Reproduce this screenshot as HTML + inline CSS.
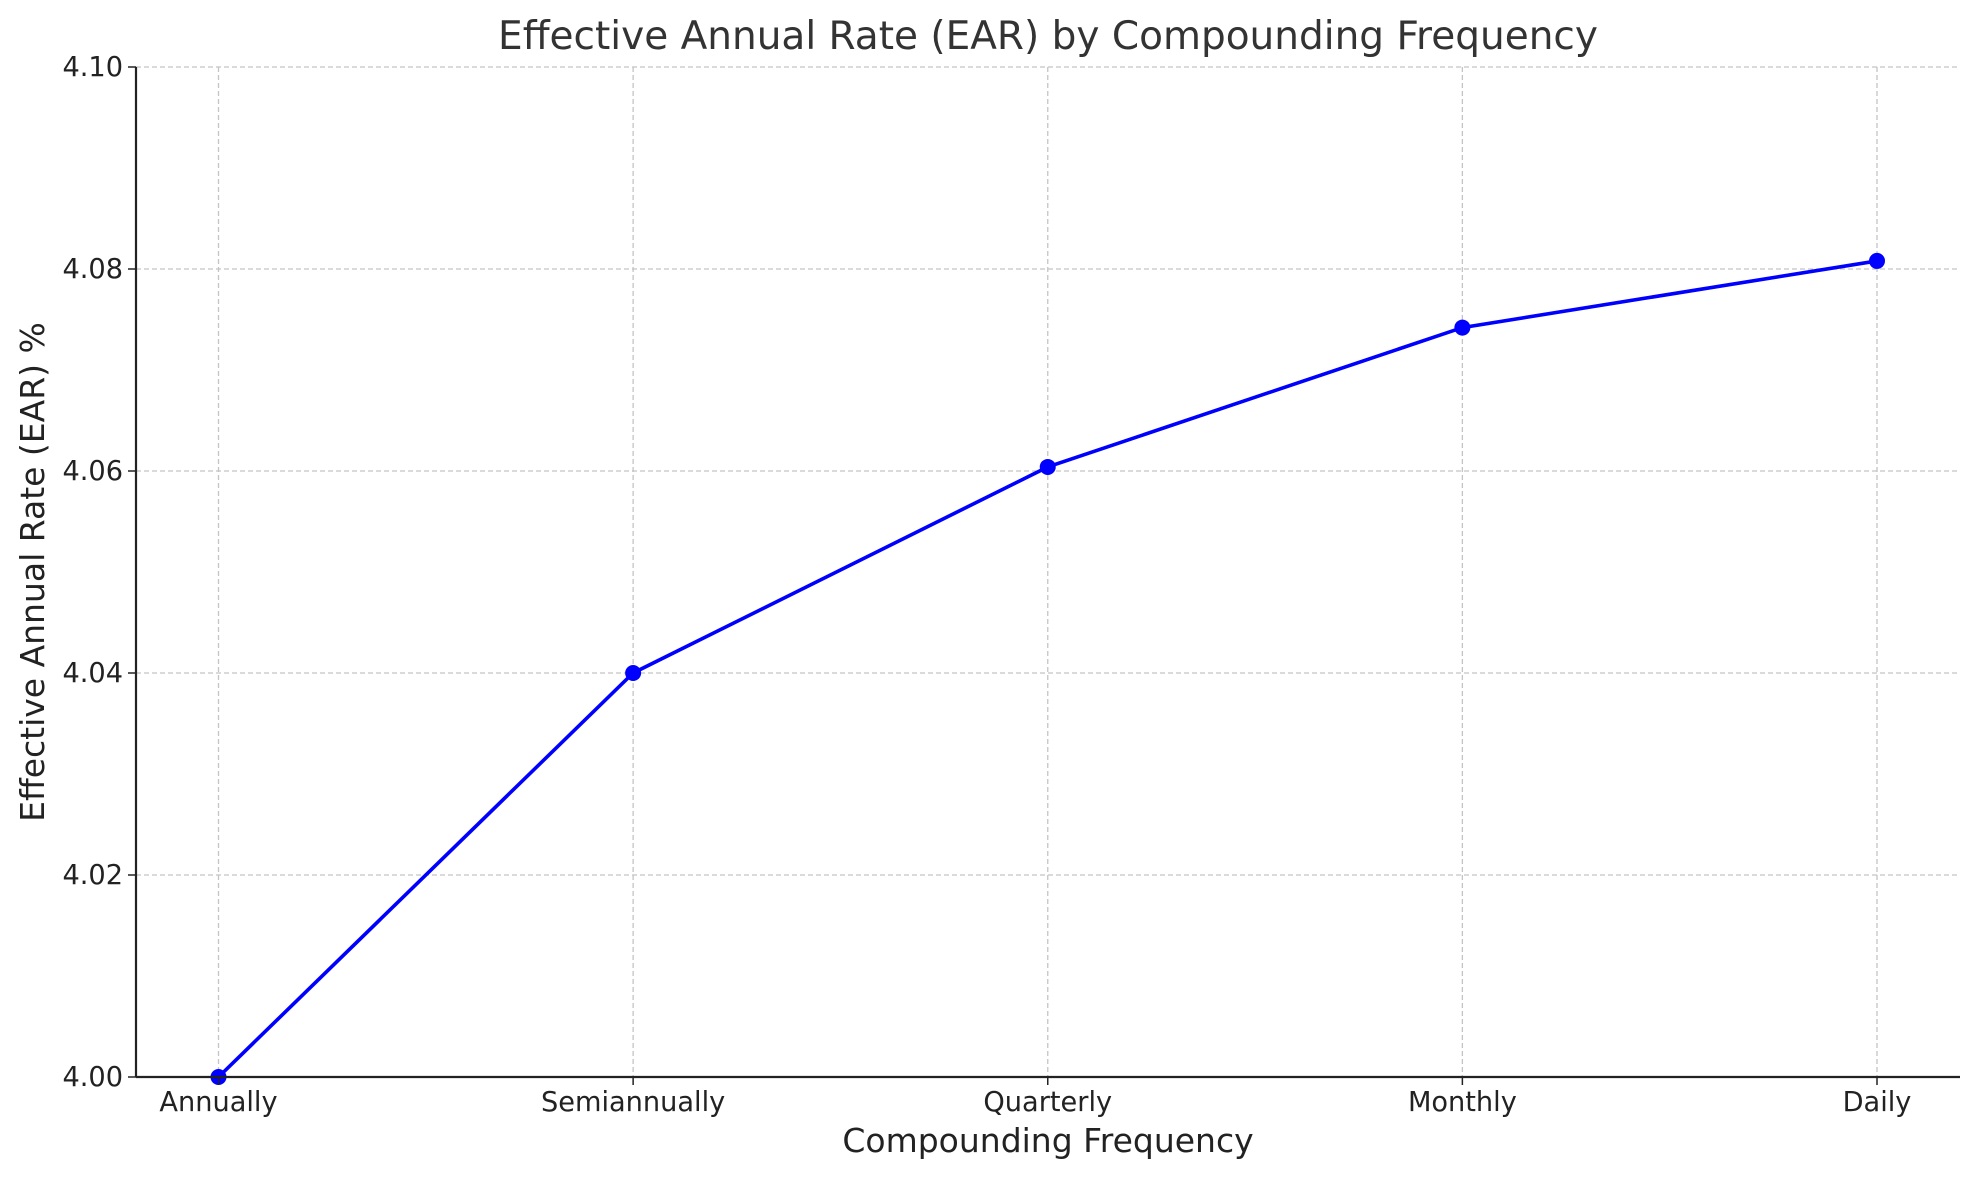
<!DOCTYPE html>
<html><head><meta charset="utf-8"><style>
body{margin:0;background:#fff}
svg{display:block;font-family:"DejaVu Sans","Liberation Sans",sans-serif}
</style></head><body>
<svg id="chart" width="1980" height="1180">
<rect width="1980" height="1180" fill="#fff"/>
<g id="grid"></g>
<g id="marks"></g>
<g id="axes"></g>
<text x="1048" y="49" text-anchor="middle" font-size="39" fill="#333">Effective Annual Rate (EAR) by Compounding Frequency</text>
<text x="1048" y="1152" text-anchor="middle" font-size="33" fill="#222">Compounding Frequency</text>
<text transform="translate(44,572) rotate(-90)" text-anchor="middle" font-size="33" fill="#222">Effective Annual Rate (EAR) %</text>
</svg>
<script>
const categories=["Annually","Semiannually","Quarterly","Monthly","Daily"];
const earValues=[4.0,4.04,4.0604,4.0742,4.0808];
const yTicks=[4.00,4.02,4.04,4.06,4.08,4.10];
const L=136,R=1960,T=67,B=1077,x0=218.5,x1=1877,yMin=4.0,yMax=4.1;
const NS="http://www.w3.org/2000/svg";
function X(i){return x0+(x1-x0)*i/(categories.length-1);}
function Y(v){return B-(v-yMin)/(yMax-yMin)*(B-T);}
function mk(t,a,p){const e=document.createElementNS(NS,t);for(const k in a)e.setAttribute(k,a[k]);p.appendChild(e);return e;}
const grid=document.getElementById('grid'),marks=document.getElementById('marks'),axes=document.getElementById('axes');
yTicks.forEach((v,i)=>{
 const g=mk('line',{x1:L,x2:R,y1:Y(v),y2:Y(v),stroke:'#c4c4c4','stroke-width':1.3,'stroke-dasharray':'5,3'},grid);
 
 
 const t=mk('line',{x1:L-8,x2:L,y1:Y(v),y2:Y(v),stroke:'#222','stroke-width':1.5},axes);
 
 
 const tx=mk('text',{x:L-13,y:Y(v)+9,'text-anchor':'end','font-size':27.2,fill:'#222'},axes);
 tx.textContent=v.toFixed(2);
 
 
});
categories.forEach((c,i)=>{
 const g=mk('line',{x1:X(i),x2:X(i),y1:T,y2:B,stroke:'#c4c4c4','stroke-width':1.3,'stroke-dasharray':'5,3'},grid);
 
 
 const t=mk('line',{x1:X(i),x2:X(i),y1:B,y2:B+8,stroke:'#222','stroke-width':1.5},axes);
 
 
 const tx=mk('text',{x:X(i),y:B+34,'text-anchor':'middle','font-size':27.2,fill:'#222'},axes);
 tx.textContent=c;
 
 
});
const pl=mk('polyline',{points:earValues.map((v,i)=>X(i)+','+Y(v)).join(' '),fill:'none',stroke:'#0000ff','stroke-width':3.6},marks);


earValues.forEach((v,i)=>{
 const c=mk('circle',{cx:X(i),cy:Y(v),r:8,fill:'#0000ff'},marks);
 
 
});
const sp1=mk('line',{x1:L,x2:L,y1:T,y2:B,stroke:'#222','stroke-width':2.2},axes);


const sp2=mk('line',{x1:L,x2:R,y1:B,y2:B,stroke:'#222','stroke-width':2.2},axes);


</script>
</body></html>
